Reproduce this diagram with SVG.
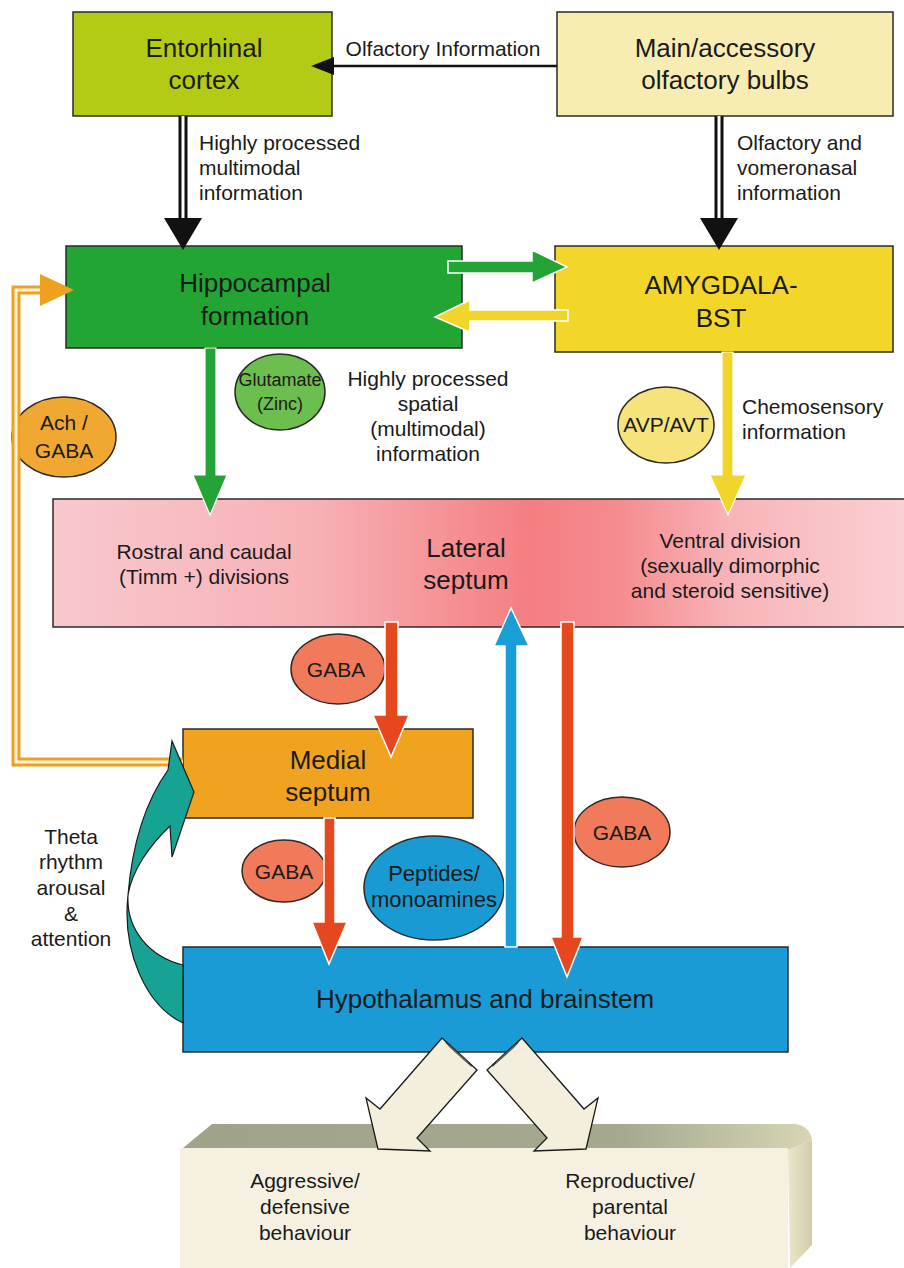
<svg xmlns="http://www.w3.org/2000/svg" width="904" height="1268" viewBox="0 0 904 1268">
<style>
text{font-family:"Liberation Sans",Arial,sans-serif;fill:#1a1a1a}
.big{font-size:26px;text-anchor:middle}
.lab{font-size:21px}
.mid{text-anchor:middle}
.sm{font-size:18px;text-anchor:middle}
.box{stroke:#2a2a2a;stroke-width:1.5}
.ell{stroke:#2a2a2a;stroke-width:1.5}
.red{fill:#e5481e;stroke:#fff;stroke-width:1.5}
</style>
<defs>
<linearGradient id="lsg" x1="0" y1="0" x2="1" y2="0">
<stop offset="0" stop-color="#f8c8cd"/>
<stop offset="0.3" stop-color="#f7b2b7"/>
<stop offset="0.45" stop-color="#f59498"/>
<stop offset="0.56" stop-color="#f47e82"/>
<stop offset="0.66" stop-color="#f58b8e"/>
<stop offset="0.8" stop-color="#f8b5b9"/>
<stop offset="1" stop-color="#fad0d3"/>
</linearGradient>
<linearGradient id="topg" x1="0" y1="0" x2="1" y2="0">
<stop offset="0" stop-color="#a0a38a"/>
<stop offset="0.7" stop-color="#a6a98e"/>
<stop offset="1" stop-color="#d6d6b4"/>
</linearGradient>
<linearGradient id="sideg" x1="0" y1="0" x2="1" y2="0">
<stop offset="0" stop-color="#ebe6cc"/>
<stop offset="1" stop-color="#d0cdaa"/>
</linearGradient>
</defs>

<g id="entorhinal">
<rect class="box" x="73" y="12" width="259" height="104" fill="#b4cb16"/>
<text class="big" x="204" y="57">Entorhinal</text>
<text class="big" x="204" y="89">cortex</text>
</g>

<g id="bulbs">
<rect class="box" x="557" y="12" width="336" height="104" fill="#f7edb2"/>
<text class="big" x="725" y="57">Main/accessory</text>
<text class="big" x="725" y="89">olfactory bulbs</text>
</g>

<g id="hippocampal">
<rect class="box" x="66" y="246" width="396" height="102" fill="#23a534"/>
<text class="big" x="255" y="292">Hippocampal</text>
<text class="big" x="255" y="325">formation</text>
</g>

<g id="amygdala">
<rect class="box" x="555" y="246" width="338" height="106" fill="#f2d62a"/>
<text class="big" x="721" y="294">AMYGDALA-</text>
<text class="big" x="721" y="327">BST</text>
</g>

<g id="lateral-septum">
<rect class="box" x="53" y="499" width="852" height="128" fill="url(#lsg)"/>
<text class="lab mid" x="204" y="559">Rostral and caudal</text>
<text class="lab mid" x="204" y="584">(Timm +) divisions</text>
<text class="big" x="466" y="557">Lateral</text>
<text class="big" x="466" y="589">septum</text>
<text class="lab mid" x="730" y="548">Ventral division</text>
<text class="lab mid" x="730" y="573">(sexually dimorphic</text>
<text class="lab mid" x="730" y="598">and steroid sensitive)</text>
</g>

<g id="medial-septum">
<rect class="box" x="183" y="729" width="290" height="89" fill="#f0a31f"/>
<text class="big" x="328" y="769">Medial</text>
<text class="big" x="328" y="801">septum</text>
</g>

<g id="hypothalamus">
<rect class="box" x="183" y="947" width="605" height="105" fill="#1a9bd5"/>
<text class="big" x="485" y="1008">Hypothalamus and brainstem</text>
</g>

<g id="behaviour">
<path d="M183,1148 L212,1124 L795,1124 Q810,1126 812,1140 L788,1150 Z" fill="url(#topg)"/>
<rect x="180" y="1148" width="608" height="120" fill="#f6f0e0"/>
<path d="M788,1150 L812,1140 L812,1245 L790,1268 Z" fill="url(#sideg)"/>
<text class="lab mid" x="305" y="1188">Aggressive/</text>
<text class="lab mid" x="305" y="1214">defensive</text>
<text class="lab mid" x="305" y="1240">behaviour</text>
<text class="lab mid" x="630" y="1188">Reproductive/</text>
<text class="lab mid" x="630" y="1214">parental</text>
<text class="lab mid" x="630" y="1240">behaviour</text>
</g>

<g id="ach-gaba">
<ellipse class="ell" cx="64" cy="437" rx="52" ry="40" fill="#f0a833"/>
<text class="lab mid" x="64" y="430">Ach /</text>
<text class="lab mid" x="64" y="458">GABA</text>
</g>
<g id="glutamate">
<ellipse class="ell" cx="280" cy="392" rx="45" ry="38" fill="#6cbf4e"/>
<text class="sm" x="280" y="386">Glutamate</text>
<text class="sm" x="280" y="410">(Zinc)</text>
</g>
<g id="avp">
<ellipse class="ell" cx="666" cy="425" rx="48" ry="38" fill="#f6e37c"/>
<text class="lab mid" x="666" y="432">AVP/AVT</text>
</g>
<g id="gaba-1">
<ellipse class="ell" cx="338" cy="669" rx="47" ry="35" fill="#f07a5a"/>
<text class="lab mid" x="336" y="677">GABA</text>
</g>
<g id="gaba-2">
<ellipse class="ell" cx="284" cy="871" rx="42" ry="31" fill="#f07a5a"/>
<text class="lab mid" x="284" y="879">GABA</text>
</g>
<g id="peptides">
<ellipse class="ell" cx="434" cy="888" rx="70" ry="52" fill="#1a9ad2"/>
<text class="mid" style="font-size:22px" x="434" y="881">Peptides/</text>
<text class="mid" style="font-size:22px" x="434" y="907">monoamines</text>
</g>
<g id="gaba-3">
<ellipse class="ell" cx="622" cy="832" rx="48" ry="35" fill="#f07a5a"/>
<text class="lab mid" x="622" y="840">GABA</text>
</g>

<g id="label-olfactory">
<text class="lab mid" x="443" y="56">Olfactory Information</text>
</g>
<g id="label-multimodal">
<text class="lab" x="199" y="150">Highly processed</text>
<text class="lab" x="199" y="175">multimodal</text>
<text class="lab" x="199" y="200">information</text>
</g>
<g id="label-vomeronasal">
<text class="lab" x="737" y="150">Olfactory and</text>
<text class="lab" x="737" y="175">vomeronasal</text>
<text class="lab" x="737" y="200">information</text>
</g>
<g id="label-spatial">
<text class="lab mid" x="428" y="386">Highly processed</text>
<text class="lab mid" x="428" y="411">spatial</text>
<text class="lab mid" x="428" y="436">(multimodal)</text>
<text class="lab mid" x="428" y="461">information</text>
</g>
<g id="label-chemo">
<text class="lab" x="742" y="414">Chemosensory</text>
<text class="lab" x="742" y="439">information</text>
</g>
<g id="label-theta">
<text class="lab mid" x="71" y="844">Theta</text>
<text class="lab mid" x="71" y="869">rhythm</text>
<text class="lab mid" x="71" y="895">arousal</text>
<text class="lab mid" x="71" y="921">&amp;</text>
<text class="lab mid" x="71" y="946">attention</text>
</g>

<g id="connectors">
<!-- olfactory info arrow -->
<line x1="557" y1="66" x2="330" y2="66" stroke="#111" stroke-width="2.5"/>
<polygon points="334,57 311,66 334,75" fill="#111"/>
<!-- entorhinal -> hippocampal triple -->
<line x1="183" y1="116" x2="183" y2="222" stroke="#111" stroke-width="9"/>
<line x1="183" y1="116" x2="183" y2="222" stroke="#fff" stroke-width="3"/>
<polygon points="164,218 202,218 183,250" fill="#111"/>
<!-- bulbs -> amygdala triple -->
<line x1="719" y1="116" x2="719" y2="222" stroke="#111" stroke-width="9"/>
<line x1="719" y1="116" x2="719" y2="222" stroke="#fff" stroke-width="3"/>
<polygon points="700,218 738,218 719,250" fill="#111"/>
<!-- hippocampal -> amygdala green -->
<polygon points="448,261 532,261 532,250 567,267 532,283 532,273 448,273" fill="#24a436" stroke="#fff" stroke-width="1.5"/>
<!-- amygdala -> hippocampal yellow -->
<polygon points="568,310 470,310 470,300 435,317 470,332 470,321 568,321" fill="#f2d52a" stroke="#fff" stroke-width="1.5"/>
<!-- hippocampal -> lateral septum green -->
<polygon points="205,348 216,348 216,475 227,475 210,515 193,475 205,475" fill="#24a436" stroke="#fff" stroke-width="1.2"/>
<!-- amygdala -> lateral septum yellow -->
<polygon points="722,352 733,352 733,475 746,475 728,515 710,475 722,475" fill="#f2d52a" stroke="#fff" stroke-width="1.2"/>
<!-- LS -> medial septum red -->
<polygon class="red" points="385,622 398,622 398,715 409,715 391,757 373,715 385,715"/>
<!-- hypothalamus -> LS blue -->
<polygon points="505,947 517,947 517,646 529,646 511,608 494,646 505,646" fill="#199ed6" stroke="#fff" stroke-width="1.5"/>
<!-- LS -> hypothalamus red -->
<polygon class="red" points="561,622 574,622 574,937 583,937 567,977 551,937 561,937"/>
<!-- medial septum -> hypothalamus red -->
<polygon class="red" points="324,818 335,818 335,922 347,922 329,964 312,922 324,922"/>
<!-- medial septum -> hippocampal orange triple -->
<polyline points="183,762 16,762 16,290 46,290" fill="none" stroke="#eea11f" stroke-width="9"/>
<polyline points="183,762 16,762 16,290 46,290" fill="none" stroke="#fff3d8" stroke-width="3"/>
<polygon points="40,274 74,290 40,306" fill="#eea11f"/>
<!-- hypothalamus -> medial septum theta (teal) -->
<path d="M183,1023 C145,1005 122,950 128,895 C133,835 150,795 168,770 L172,741 L194,792 L172,857 L170,826 C150,845 132,870 128,895 C126,930 150,957 183,965 Z" fill="#17a394" stroke="#1a1a1a" stroke-width="1.2"/>
<!-- hypothalamus -> behaviour outputs -->
<polygon points="442,1038 477,1070 417,1138 430,1151 378,1149 366,1098 380,1109" fill="#f4eedc" stroke="#1a1a1a" stroke-width="1.3"/>
<polygon points="522,1038 487,1070 547,1138 534,1151 586,1149 598,1098 584,1109" fill="#f4eedc" stroke="#1a1a1a" stroke-width="1.3"/>
<line x1="446" y1="1042" x2="472" y2="1066" stroke="#333" stroke-width="2"/>
<line x1="449" y1="1046" x2="468" y2="1063" stroke="#666" stroke-width="1.5"/>
<line x1="518" y1="1042" x2="492" y2="1066" stroke="#333" stroke-width="2"/>
<line x1="515" y1="1046" x2="496" y2="1063" stroke="#666" stroke-width="1.5"/>
</g>
</svg>
